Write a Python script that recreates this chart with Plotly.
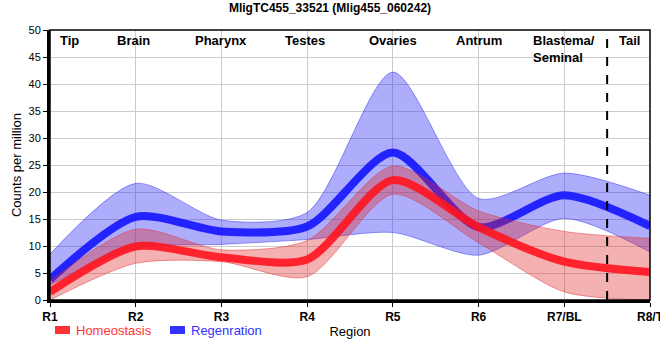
import plotly.graph_objects as go

categories = ["R1", "R2", "R3", "R4", "R5", "R6", "R7/BL", "R8/T"]

homeo_mean = [1.5, 9.9, 7.9, 7.5, 22.2, 13.5, 7.1, 5.2]
homeo_upper = [3.5, 13.1, 9.3, 11.0, 24.8, 16.5, 12.7, 11.4]
homeo_lower = [0.0, 6.8, 7.1, 4.3, 19.6, 10.6, 1.5, 0.0]

regen_mean = [3.8, 15.4, 12.7, 13.6, 27.3, 13.5, 19.4, 13.7]
regen_upper = [8.5, 21.6, 14.8, 16.2, 42.2, 18.8, 23.5, 19.4]
regen_lower = [2.8, 9.6, 10.3, 11.2, 12.5, 8.3, 15.1, 8.9]

region_labels = ["Tip", "Brain", "Pharynx", "Testes", "Ovaries", "Antrum", "Blastema/<br>Seminal", "Tail"]
region_pos = [0.23, 0.97, 2.0, 2.97, 4.0, 5.0, 6.0, 6.76]

series_names = ["Homeostasis", "Regenration"]
series_colors = ["#ff3333", "#3333ff"]

title = "MligTC455_33521 (Mlig455_060242)"

FONT = "Liberation Sans, Arial, sans-serif"
SMOOTH = 0.75

W, H = 660, 360
ML, MR, MT, MB = 50, 10, 30, 60
PW, PH = W - ML - MR, H - MT - MB

fig = go.Figure()

def band(upper, lower, fillc, linec):
    fig.add_trace(go.Scatter(x=categories, y=upper, mode="lines",
                             line=dict(color=linec, width=1, shape="spline", smoothing=SMOOTH),
                             showlegend=False, hoverinfo="skip"))
    fig.add_trace(go.Scatter(x=categories, y=lower, mode="lines", fill="tonexty",
                             fillcolor=fillc,
                             line=dict(color=linec, width=1, shape="spline", smoothing=SMOOTH),
                             showlegend=False, hoverinfo="skip"))

band(regen_upper, regen_lower, "rgba(40,40,245,0.38)", "rgba(40,40,240,0.45)")
fig.add_trace(go.Scatter(x=categories, y=regen_mean, mode="lines", name=series_names[1],
                         line=dict(color="rgba(20,20,255,0.9)", width=8, shape="spline", smoothing=SMOOTH),
                         showlegend=False))
band(homeo_upper, homeo_lower, "rgba(225,40,40,0.36)", "rgba(225,40,40,0.45)")
fig.add_trace(go.Scatter(x=categories, y=homeo_mean, mode="lines", name=series_names[0],
                         line=dict(color="rgba(255,20,30,0.9)", width=8, shape="spline", smoothing=SMOOTH),
                         showlegend=False))

for lab, pos in zip(region_labels, region_pos):
    fig.add_annotation(x=pos, y=1.0, xref="x", yref="paper", text="<b>%s</b>" % lab,
                       showarrow=False, yanchor="top", yshift=-1,
                       font=dict(family=FONT, size=13, color="black"), align="left")

fig.add_shape(type="line", x0=6.5, x1=6.5, y0=0, y1=1, xref="x", yref="paper",
              line=dict(color="black", width=2, dash="dash"))
fig.add_shape(type="rect", x0=0, x1=1, y0=0, y1=1, xref="paper", yref="paper",
              line=dict(color="black", width=1.5))

# manual legend (pixel positions converted to paper coords)
def px_x(p):
    return (p - ML) / PW

def px_y(p):
    return (MT + PH - p) / PH

legend_sym_x = [55, 170]
for name, col, sx in zip(series_names, series_colors, legend_sym_x):
    fig.add_shape(type="rect", xref="paper", yref="paper",
                  x0=px_x(sx), x1=px_x(sx + 15), y0=px_y(334), y1=px_y(326),
                  line=dict(width=0), fillcolor=col)
    fig.add_annotation(xref="paper", yref="paper", x=px_x(sx + 19), y=px_y(330),
                       text=name, showarrow=False, xanchor="left", yanchor="middle",
                       font=dict(family=FONT, size=13, color=col))

fig.update_layout(
    width=W, height=H,
    margin=dict(l=ML, r=MR, t=MT, b=MB, autoexpand=False),
    plot_bgcolor="white", paper_bgcolor="white",
    font=dict(family=FONT, size=12, color="black"),
    title=dict(text="<b>%s</b>" % title, x=0.5, xanchor="center", y=0.99, yanchor="top",
               font=dict(family=FONT, size=12, color="black")),
    xaxis=dict(type="category", range=[0, 7], showgrid=True, gridcolor="#cccccc", gridwidth=1,
               showline=True, linecolor="black", linewidth=3, ticks="outside", ticklen=4,
               tickcolor="black", tickfont=dict(family=FONT, size=12, color="black", weight="bold"),
               title=dict(text="Region", font=dict(family=FONT, size=13), standoff=4),
               zeroline=False, automargin=False),
    yaxis=dict(range=[0, 50], dtick=5, showgrid=True, gridcolor="#cccccc", gridwidth=1,
               showline=True, linecolor="black", linewidth=3, ticks="outside", ticklen=4,
               tickcolor="black", tickfont=dict(family=FONT, size=11, color="black"),
               title=dict(text="Counts per million", font=dict(family=FONT, size=13), standoff=4),
               zeroline=False, automargin=False),
    showlegend=False,
)

fig.write_html("out.html", config={"displayModeBar": False},
               post_script="document.body.style.margin='0px';")
